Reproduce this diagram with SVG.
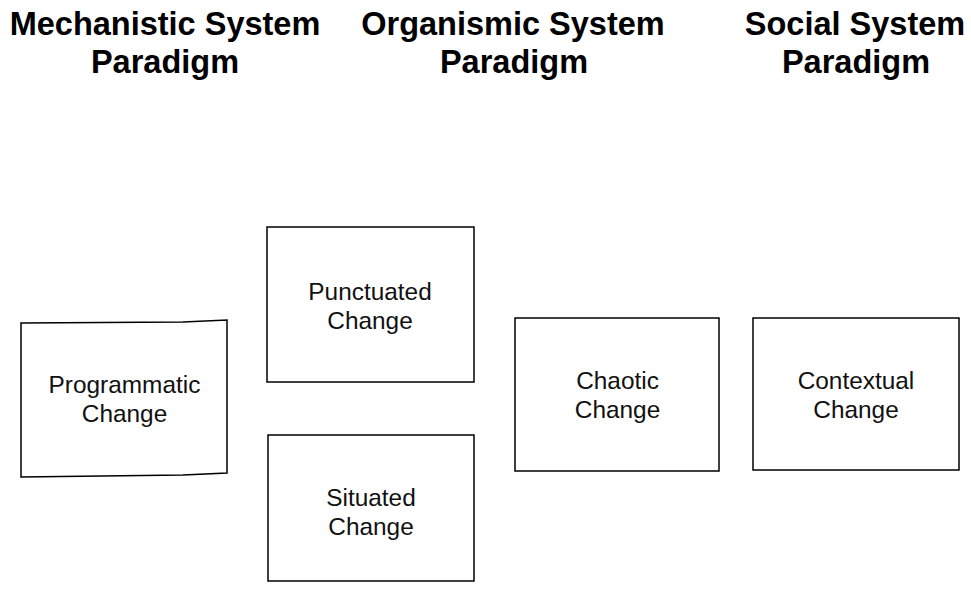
<svg xmlns="http://www.w3.org/2000/svg" width="971" height="589" viewBox="0 0 971 589">
  <style>
    .title { font-family: "Liberation Sans", Arial, sans-serif; font-weight: bold; font-size: 32.5px; fill: #000; text-anchor: middle; }
    .label { font-family: "Liberation Sans", Arial, sans-serif; font-size: 24.4px; fill: #111; text-anchor: middle; }
    .box { fill: #fff; stroke: #000; stroke-width: 1.5; }
  </style>
  <rect width="971" height="589" fill="#fff"/>

  <!-- column headings -->
  <g id="heading-mechanistic">
    <text class="title" x="165" y="35">Mechanistic System</text>
    <text class="title" x="165" y="73">Paradigm</text>
  </g>
  <g id="heading-organismic">
    <text class="title" x="513" y="35">Organismic System</text>
    <text class="title" x="514" y="73">Paradigm</text>
  </g>
  <g id="heading-social">
    <text class="title" x="855" y="35">Social System</text>
    <text class="title" x="856" y="73">Paradigm</text>
  </g>

  <!-- change types -->
  <g id="programmatic-change">
    <path class="box" d="M21,323 L183,322 L227,320 L227,473 L183,475 L21,477 Z"/>
    <text class="label" x="124.5" y="393">Programmatic</text>
    <text class="label" x="124.5" y="422">Change</text>
  </g>
  <g id="punctuated-change">
    <rect class="box" x="267" y="227" width="207" height="155"/>
    <text class="label" x="370" y="300">Punctuated</text>
    <text class="label" x="370" y="329">Change</text>
  </g>
  <g id="situated-change">
    <rect class="box" x="268" y="435" width="206" height="146"/>
    <text class="label" x="371" y="506">Situated</text>
    <text class="label" x="371" y="535">Change</text>
  </g>
  <g id="chaotic-change">
    <rect class="box" x="515" y="318" width="204" height="153"/>
    <text class="label" x="617.5" y="389">Chaotic</text>
    <text class="label" x="617.5" y="418">Change</text>
  </g>
  <g id="contextual-change">
    <rect class="box" x="753" y="318" width="206" height="152"/>
    <text class="label" x="856" y="389">Contextual</text>
    <text class="label" x="856" y="418">Change</text>
  </g>

  <g id="connectors"/>
</svg>
